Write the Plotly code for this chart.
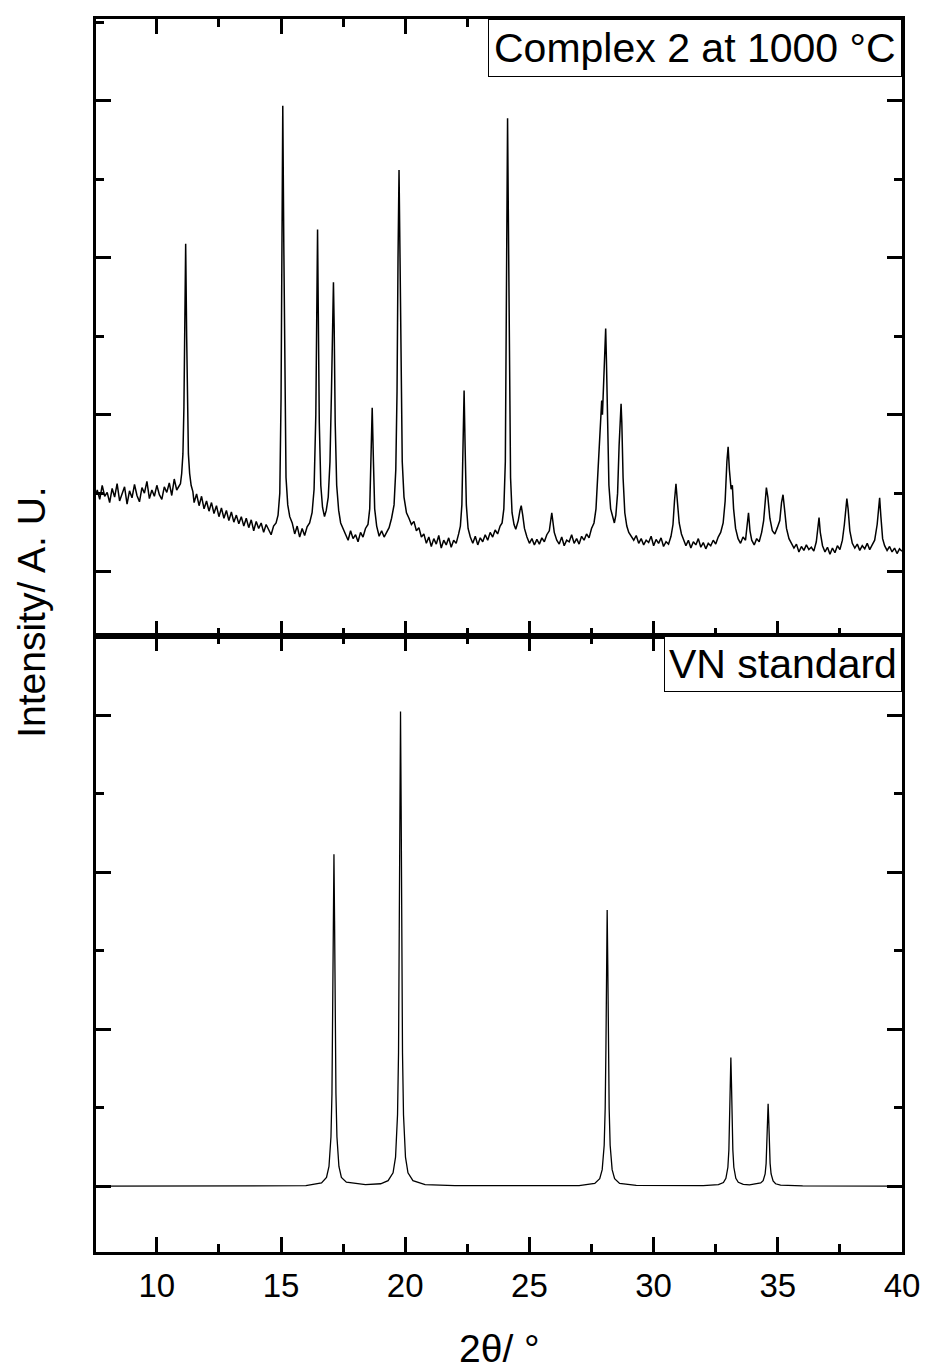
import plotly.graph_objects as go
from plotly.subplots import make_subplots

# ---------------- data ----------------
# Top panel: Complex 2 at 1000 C (2theta in degrees, intensity in arbitrary units)
top_two_theta = [
    7.55, 7.6, 7.7, 7.8, 7.9, 8.0, 8.1, 8.2, 8.3, 8.4,
    8.5, 8.6, 8.7, 8.8, 8.9, 9.0, 9.1, 9.2, 9.3, 9.4,
    9.5, 9.6, 9.7, 9.8, 9.9, 10.0, 10.1, 10.2, 10.3, 10.4,
    10.5, 10.6, 10.7, 10.8, 10.9, 10.95, 11.0, 11.05, 11.09, 11.12,
    11.16, 11.2, 11.23, 11.27, 11.32, 11.38, 11.45, 11.5, 11.6, 11.7,
    11.8, 11.9, 12.0, 12.1, 12.2, 12.3, 12.4, 12.5, 12.6, 12.7,
    12.8, 12.9, 13.0, 13.1, 13.2, 13.3, 13.4, 13.5, 13.6, 13.7,
    13.8, 13.9, 14.0, 14.1, 14.2, 14.3, 14.4, 14.5, 14.6, 14.7,
    14.8, 14.88, 14.95, 15.0, 15.03, 15.07, 15.11, 15.15, 15.2, 15.27,
    15.35, 15.45, 15.55, 15.65, 15.75, 15.85, 15.95, 16.05, 16.15, 16.25,
    16.33, 16.4, 16.44, 16.47, 16.5, 16.54, 16.6, 16.67, 16.75, 16.82,
    16.9, 16.97, 17.03, 17.08, 17.11, 17.14, 17.18, 17.24, 17.32, 17.4,
    17.5, 17.6, 17.7, 17.8, 17.9, 18.0, 18.1, 18.2, 18.3, 18.4,
    18.5, 18.57, 18.62, 18.67, 18.72, 18.77, 18.85, 18.95, 19.05, 19.15,
    19.25, 19.35, 19.45, 19.55, 19.62, 19.67, 19.71, 19.75, 19.79, 19.83,
    19.88, 19.95, 20.05, 20.15, 20.25, 20.35, 20.45, 20.55, 20.65, 20.75,
    20.85, 20.95, 21.05, 21.15, 21.25, 21.35, 21.45, 21.55, 21.65, 21.75,
    21.85, 21.95, 22.05, 22.15, 22.22, 22.28, 22.33, 22.37, 22.41, 22.46,
    22.53, 22.62, 22.72, 22.82, 22.92, 23.02, 23.12, 23.22, 23.32, 23.42,
    23.52, 23.62, 23.72, 23.82, 23.9, 23.97, 24.03, 24.07, 24.1, 24.12,
    24.15, 24.19, 24.24, 24.3, 24.38, 24.45, 24.55, 24.62, 24.67, 24.73,
    24.8, 24.9, 25.0, 25.1, 25.2, 25.3, 25.4, 25.5, 25.6, 25.7,
    25.8, 25.9, 26.0, 26.1, 26.2, 26.3, 26.4, 26.5, 26.6, 26.7,
    26.8, 26.9, 27.0, 27.1, 27.2, 27.3, 27.4, 27.5, 27.6, 27.68,
    27.75, 27.82, 27.88, 27.91, 27.94, 27.98, 28.03, 28.07, 28.1, 28.14,
    28.2, 28.27, 28.35, 28.42, 28.48, 28.55, 28.61, 28.66, 28.69, 28.72,
    28.77, 28.84, 28.92, 29.0, 29.1, 29.2, 29.3, 29.4, 29.5, 29.6,
    29.7, 29.8, 29.9, 30.0, 30.1, 30.2, 30.3, 30.4, 30.5, 30.6,
    30.7, 30.78, 30.84, 30.9, 30.96, 31.03, 31.12, 31.2, 31.3, 31.4,
    31.5, 31.6, 31.7, 31.8, 31.9, 32.0, 32.1, 32.2, 32.3, 32.4,
    32.5, 32.6, 32.7, 32.8, 32.88, 32.95, 33.0, 33.05, 33.12, 33.17,
    33.22, 33.3, 33.4, 33.5, 33.6, 33.7, 33.76, 33.82, 33.88, 33.95,
    34.05, 34.15, 34.25, 34.35, 34.43, 34.5, 34.54, 34.6, 34.68, 34.78,
    34.88, 34.98, 35.08, 35.15, 35.21, 35.27, 35.35, 35.45, 35.55, 35.65,
    35.75, 35.85, 35.95, 36.05, 36.15, 36.25, 36.35, 36.45, 36.55, 36.62,
    36.66, 36.71, 36.8, 36.9, 37.0, 37.1, 37.2, 37.3, 37.4, 37.5,
    37.6, 37.68, 37.74, 37.78, 37.83, 37.9, 38.0, 38.1, 38.2, 38.3,
    38.4, 38.5, 38.6, 38.7, 38.8, 38.9, 39.0, 39.06, 39.1, 39.15,
    39.22, 39.3, 39.4, 39.5, 39.6, 39.7, 39.8, 39.9, 40.0,
]
top_intensity = [
    98, 104, 92, 110, 96, 101, 88, 106, 95, 112,
    90, 99, 108, 86, 103, 94, 111, 97, 89, 107,
    100, 115, 93, 104, 96, 110, 98, 92, 108, 101,
    113, 97, 118, 104, 110, 112, 125, 150, 210, 320,
    418, 300, 200, 150, 125, 110, 102, 88, 99, 84,
    96, 80, 90, 77, 88, 74, 84, 70, 81, 68,
    78, 65, 76, 63, 72, 61, 70, 58, 68, 56,
    66, 52, 64, 55, 62, 50, 60, 53, 47, 58,
    62, 72, 100, 220, 420, 594, 420, 230, 120, 85,
    70, 62, 48, 58, 44, 55, 46, 57, 62, 75,
    105, 200, 340, 436, 330, 190, 110, 82, 70, 78,
    95, 140, 230, 330, 369, 310, 190, 110, 78, 62,
    55, 48, 40, 52, 42, 47, 38, 50, 44, 55,
    60, 80, 140, 209, 140, 80, 58, 45, 52, 44,
    50, 56, 68, 85, 130, 230, 400, 512, 400, 240,
    140, 95, 75, 68, 60, 64, 52, 56, 44, 48,
    36, 44, 32, 42, 35, 46, 30, 40, 34, 43,
    31, 40, 36, 48, 58, 85, 160, 231, 160, 85,
    55, 44, 36, 45, 34, 43, 38, 47, 40, 50,
    44, 53, 48, 58, 62, 80, 140, 320, 520, 578,
    460, 240, 120, 75, 60, 54, 65, 78, 84, 72,
    55, 44, 36, 42, 34, 41, 35, 43, 38, 47,
    52, 75, 50, 40, 35, 44, 33, 40, 38, 47,
    36, 42, 35, 45, 40, 48, 43, 55, 62, 80,
    120, 170, 210, 218, 200, 230, 290, 310, 270, 180,
    110, 80, 68, 62, 72, 100, 160, 205, 214, 190,
    120, 75, 58, 50, 44, 40, 46, 36, 42, 34,
    40, 37, 45, 33, 41, 36, 43, 32, 38, 35,
    45, 60, 90, 112, 88, 62, 48, 40, 33, 40,
    30, 38, 34, 42, 31, 37, 29, 36, 33, 40,
    35, 44, 50, 62, 90, 140, 159, 130, 105, 110,
    80, 55, 42, 36, 44, 40, 55, 75, 52, 40,
    34, 42, 38, 50, 65, 100, 107, 95, 68, 52,
    48, 56, 65, 88, 98, 80, 55, 42, 36, 30,
    35, 25, 32, 27, 34, 28, 31, 26, 38, 55,
    69, 50, 33, 25, 31, 22, 30, 24, 33, 28,
    40, 60, 85, 93, 80, 52, 36, 30, 35, 27,
    33, 29, 36, 28, 34, 40, 60, 85, 94, 70,
    42, 33, 27, 32, 25, 30, 23, 29, 26,
]

# Bottom panel: VN standard
vn_two_theta = [
    7.55, 16.0, 16.63, 16.83, 16.93, 17.01, 17.05, 17.08, 17.105, 17.13,
    17.155, 17.18, 17.21, 17.25, 17.33, 17.43, 17.63, 18.4, 19.01, 19.31,
    19.51, 19.61, 19.69, 19.73, 19.76, 19.785, 19.81, 19.835, 19.86, 19.89,
    19.93, 20.01, 20.11, 20.31, 20.8, 22.0, 27.0, 27.63, 27.83, 27.93,
    28.01, 28.05, 28.08, 28.105, 28.13, 28.155, 28.18, 28.21, 28.25, 28.33,
    28.43, 28.63, 29.3, 32.0, 32.61, 32.81, 32.91, 32.99, 33.03, 33.06,
    33.085, 33.11, 33.135, 33.16, 33.19, 33.23, 33.31, 33.41, 33.61, 33.86,
    34.11, 34.31, 34.41, 34.49, 34.53, 34.56, 34.585, 34.61, 34.635, 34.66,
    34.69, 34.73, 34.81, 34.91, 35.11, 36.0, 40.0,
]
vn_intensity = [
    0, 0.5, 4, 11, 25, 63, 118, 211, 338, 423,
    338, 211, 118, 63, 25, 11, 5, 2, 3, 7,
    17, 37, 91, 170, 303, 485, 605, 485, 303, 170,
    91, 37, 17, 7, 2, 0.5, 0.5, 3.5, 9.5, 21,
    52, 99, 176, 282, 352, 282, 176, 99, 52, 21,
    9.5, 3.5, 1, 0.5, 1.8, 4.6, 10, 24, 46, 82,
    131, 164, 131, 82, 46, 24, 10, 4.8, 2.2, 1.5,
    2.5, 4, 7, 15.5, 29, 52, 84, 105, 84, 52,
    29, 15.5, 6.5, 3, 1.2, 0.3, 0,
]

assert len(top_two_theta) == len(top_intensity)
assert len(vn_two_theta) == len(vn_intensity)

x_tick_labels = ["10", "15", "20", "25", "30", "35", "40"]
x_tick_values = [10, 15, 20, 25, 30, 35, 40]
panel_labels = ["Complex 2 at 1000 °C", "VN standard"]

# ---------------- figure ----------------
FONT = "Arial, Liberation Sans, Helvetica, sans-serif"

fig = make_subplots(rows=2, cols=1, shared_xaxes=True, vertical_spacing=0)

fig.add_trace(go.Scatter(x=top_two_theta, y=top_intensity, mode="lines",
                         line=dict(color="black", width=1.5), hoverinfo="skip"),
              row=1, col=1)
fig.add_trace(go.Scatter(x=vn_two_theta, y=vn_intensity, mode="lines",
                         line=dict(color="black", width=1.3), hoverinfo="skip"),
              row=2, col=1)

common = dict(showline=True, linecolor="black", linewidth=3, mirror="ticks",
              ticks="inside", ticklen=15, tickwidth=2.5, tickcolor="black",
              showgrid=False, zeroline=False)
minor = dict(ticks="inside", ticklen=8, tickwidth=2.5, tickcolor="black", showgrid=False)

for r in (1, 2):
    fig.update_xaxes(range=[7.55, 40.0001], tickvals=x_tick_values, ticktext=x_tick_labels,
                     minor=dict(dtick=2.5, tick0=0, **minor),
                     tickfont=dict(family=FONT, size=33, color="black"),
                     ticklabeloverflow="allow",
                     row=r, col=1, **common)
fig.update_xaxes(showticklabels=False, row=1, col=1)
fig.update_xaxes(showticklabels=True, ticklabelstandoff=2, row=2, col=1)

fig.update_yaxes(range=[-81.5, 704.5], row=1, col=1)
fig.update_yaxes(range=[-84, 702], row=2, col=1)
fig.update_yaxes(tick0=0, dtick=200, showticklabels=False,
                 minor=dict(dtick=100, tick0=0, **minor), **common)

annotations = [
    dict(text=panel_labels[0], x=1, y=1, xref="paper", yref="paper",
         xanchor="right", yanchor="top", showarrow=False,
         font=dict(family=FONT, size=41, color="black"),
         bordercolor="black", borderwidth=1, borderpad=5, bgcolor="white"),
    dict(text=panel_labels[1], x=1, y=0.5, xref="paper", yref="paper",
         xanchor="right", yanchor="top", showarrow=False,
         font=dict(family=FONT, size=41, color="black"),
         bordercolor="black", borderwidth=1, borderpad=4, bgcolor="white"),
    dict(text="Intensity/ A. U.", x=-0.081, y=0.519, xref="paper", yref="paper",
         xanchor="center", yanchor="middle", textangle=-90, showarrow=False,
         font=dict(family=FONT, size=39, color="black")),
    dict(text="2θ/ °", x=0.5, y=-0.0785, xref="paper", yref="paper",
         xanchor="center", yanchor="middle", showarrow=False,
         font=dict(family=FONT, size=39, color="black")),
]

# the page body has an 8 px margin: the figure is sized to fit the window
fig.update_layout(width=920, height=1364, showlegend=False,
                  margin=dict(l=88, r=21, t=8, b=120),
                  plot_bgcolor="white", paper_bgcolor="white",
                  annotations=annotations)

fig.write_html("out.html")
